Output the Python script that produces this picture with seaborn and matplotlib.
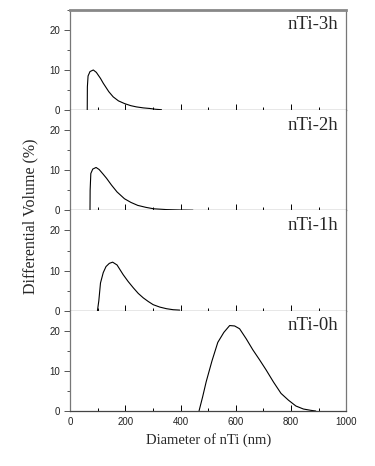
import pandas as pd
import matplotlib
matplotlib.use("Agg")
import matplotlib.pyplot as plt
import seaborn as sns
from matplotlib.ticker import MultipleLocator

# Size distributions (diameter nm, differential volume %)
labels = ["nTi-3h", "nTi-2h", "nTi-1h", "nTi-0h"]

x_3h = [62, 62.5, 65, 72, 84, 95, 110, 120, 140, 156, 175, 198, 220, 240, 265, 289, 310, 331]
y_3h = [0, 5.8, 8.5, 9.6, 10.0, 9.4, 7.9, 6.7, 4.6, 3.3, 2.3, 1.6, 1.1, 0.8, 0.55, 0.4, 0.2, 0.1]

x_2h = [72, 72.5, 75, 82, 94, 105, 120, 132, 150, 170, 197, 220, 245, 275, 303, 350, 400, 445]
y_2h = [0, 5.0, 9.2, 10.3, 10.7, 10.2, 9.0, 8.0, 6.3, 4.6, 2.9, 2.0, 1.25, 0.75, 0.4, 0.2, 0.1, 0.05]

x_1h = [99, 104, 110, 120, 130, 142, 154, 170, 192, 210, 229, 247, 265, 283, 301, 325, 349, 373, 397]
y_1h = [0, 2.5, 6.9, 9.5, 11.0, 11.8, 12.1, 11.4, 9.0, 7.3, 5.7, 4.3, 3.2, 2.3, 1.5, 0.9, 0.5, 0.25, 0.15]

x_0h = [467, 480, 493, 514, 535, 557, 578, 596, 614, 638, 662, 686, 710, 737, 764, 791, 818, 845, 872, 890]
y_0h = [0, 3.5, 7.3, 12.5, 17.1, 19.6, 21.3, 21.2, 20.5, 18.0, 15.25, 12.8, 10.25, 7.2, 4.4, 2.7, 1.25, 0.5, 0.17, 0.0]

series = [(x_3h, y_3h), (x_2h, y_2h), (x_1h, y_1h), (x_0h, y_0h)]

sns.set_style("ticks")
plt.rcParams["font.family"] = ["Liberation Serif", "DejaVu Serif"]

fig, axes = plt.subplots(4, 1, figsize=(3.75, 4.66), dpi=100, sharex=True)
fig.subplots_adjust(left=0.187, right=0.923, top=0.979, bottom=0.118, hspace=0)

for i, (ax, lab, (xs, ys)) in enumerate(zip(axes, labels, series)):
    df = pd.DataFrame({"diameter": xs, "volume": ys})
    sns.lineplot(data=df, x="diameter", y="volume", ax=ax, color="black",
                 linewidth=0.8, sort=False)
    ax.set_xlim(0, 1000)
    ax.set_ylim(0, 25)
    ax.set_xlabel("")
    ax.set_ylabel("")
    ax.yaxis.set_major_locator(MultipleLocator(10))
    ax.yaxis.set_minor_locator(MultipleLocator(5))
    ax.xaxis.set_major_locator(MultipleLocator(200))
    ax.xaxis.set_minor_locator(MultipleLocator(100))
    ax.tick_params(axis="y", which="major", direction="out", length=4, width=0.7,
                   color="#555555", pad=3, labelsize=7, labelcolor="#222222")
    ax.tick_params(axis="y", which="minor", direction="out", length=2.5, width=0.7,
                   color="#555555")
    ax.tick_params(axis="x", which="major", direction="in", length=4, width=0.7,
                   color="black", pad=4, labelsize=7, labelcolor="#222222")
    ax.tick_params(axis="x", which="minor", direction="in", length=2, width=0.7,
                   color="black")
    for t in ax.get_yticklabels() + ax.get_xticklabels():
        t.set_fontfamily("Liberation Sans")
    for side in ["left", "right"]:
        ax.spines[side].set_visible(True)
        ax.spines[side].set_color("#777777")
        ax.spines[side].set_linewidth(0.9)
    ax.spines["bottom"].set_color("#444444")
    ax.spines["bottom"].set_linewidth(0.9)
    if i == 0:
        ax.spines["top"].set_visible(True)
        ax.spines["top"].set_color("#888888")
        ax.spines["top"].set_linewidth(2)
    else:
        ax.spines["top"].set_visible(False)
    ax.text(0.97, 0.85, lab, transform=ax.transAxes, ha="right", va="center",
            fontsize=13.5)

axes[-1].set_xlabel("Diameter of nTi (nm)", fontsize=10.5, labelpad=5)
fig.text(0.08, 0.536, "Differential Volume (%)", rotation=90,
         ha="center", va="center", fontsize=11.5)

fig.savefig("out.png", dpi=100)
